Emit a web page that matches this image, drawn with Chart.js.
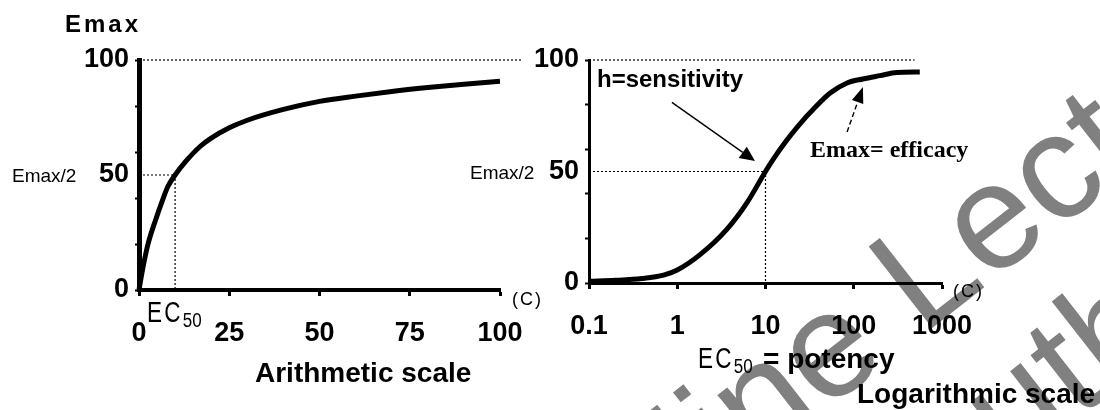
<!DOCTYPE html>
<html>
<head>
<meta charset="utf-8">
<script src="https://cdn.jsdelivr.net/npm/chart.js@4.4.1/dist/chart.umd.min.js"></script>
<style>
  html, body { margin: 0; padding: 0; background: #fff; }
  #stage { position: relative; width: 1100px; height: 410px; overflow: hidden; }
  #mark { position: absolute; left: 0; top: 0; }
  #leftWrap { position: absolute; left: 0; top: 0; width: 560px; height: 410px; }
  #rightWrap { position: absolute; left: 450px; top: 0; width: 650px; height: 410px; }
</style>
</head>
<body>
<div id="stage">
  <svg id="mark" width="1100" height="410">
    <g font-family="Liberation Sans, Arial, sans-serif" font-size="150" fill="#808080">
      <text x="548" y="628" transform="rotate(-38 548 628)">Online Lecture</text>
      <text x="933" y="532" transform="rotate(-38 933 532)">Author</text>
    </g>
  </svg>
  <div id="leftWrap"><canvas id="arithChart" width="560" height="410"></canvas></div>
  <div id="rightWrap"><canvas id="logChart" width="650" height="410"></canvas></div>
</div>
<script>
// concentration / effect readings, arithmetic plot
const arithConc   = [0, 1, 2.5, 4.5, 6.5, 8, 10, 13, 17, 20, 25, 30, 40, 50, 60, 70, 80, 90, 100];
const arithEffect = [0, 9, 20, 30, 39, 45, 50, 56, 62.5, 66, 70.5, 73.8, 78.5, 82, 84.3, 86.3, 88, 89.5, 90.8];
const arithXTicks = [0, 25, 50, 75, 100];

// concentration / effect readings, log plot
const logConc   = [0.1, 0.2, 0.4, 0.7, 1, 1.8, 3.6, 6.1, 10, 12, 17.4, 29, 34, 54, 84, 127, 198, 307, 560];
const logEffect = [0.8, 1.2, 2, 3.5, 5.8, 12.6, 23.8, 35.7, 50, 55, 64, 74.6, 77.5, 85.2, 89.7, 91.5, 93, 94.4, 94.6];
const logXTicks = [0.1, 1, 10, 100, 1000];

// effect axis (shared)
const effectTicks  = [0, 20, 40, 50, 60, 80, 100];
const effectLabels = [0, 50, 100];

const EMAX = 100;
const HALF_EFFECT = 50;
const EC50 = 10;
const arithGuideEnd = 106;
const logGuideEnd = 490;

const SANS = '"Liberation Sans", Arial, sans-serif';
const SERIF = '"Liberation Serif", "Times New Roman", serif';

const tickFont = { family: SANS, size: 27, weight: 'bold' };

function points(xs, ys) {
  return xs.map((x, i) => ({ x, y: ys[i] }));
}

function drawText(ctx, text, x, y, font, opts = {}) {
  const sx = opts.scaleX || 1;
  ctx.save();
  ctx.font = font;
  ctx.fillStyle = '#000';
  ctx.textAlign = opts.align || 'left';
  ctx.textBaseline = opts.baseline || 'alphabetic';
  if (opts.spacing) ctx.letterSpacing = opts.spacing + 'px';
  ctx.translate(x, y);
  ctx.scale(sx, 1);
  ctx.fillText(text, 0, 0);
  const w = ctx.measureText(text).width * sx;
  ctx.restore();
  return w;
}

function drawArrow(ctx, x1, y1, x2, y2, opts = {}) {
  const ang = Math.atan2(y2 - y1, x2 - x1);
  const hl = opts.head || 14;
  const hw = opts.headWidth || 6;
  const bx = x2 - hl * Math.cos(ang);
  const by = y2 - hl * Math.sin(ang);
  ctx.save();
  ctx.strokeStyle = '#000';
  ctx.fillStyle = '#000';
  ctx.lineWidth = opts.width || 1.5;
  ctx.setLineDash(opts.dash || []);
  ctx.beginPath();
  ctx.moveTo(x1, y1);
  ctx.lineTo(bx, by);
  ctx.stroke();
  ctx.setLineDash([]);
  ctx.beginPath();
  ctx.moveTo(x2, y2);
  ctx.lineTo(bx + hw * Math.sin(ang), by - hw * Math.cos(ang));
  ctx.lineTo(bx - hw * Math.sin(ang), by + hw * Math.cos(ang));
  ctx.closePath();
  ctx.fill();
  ctx.restore();
}

function effectAxis(borderWidth, axisWidth) {
  return {
    type: 'linear',
    min: 0,
    max: EMAX,
    afterBuildTicks: s => { s.ticks = effectTicks.map(v => ({ value: v })); },
    afterFit: s => { s.width = axisWidth; },
    border: { display: true, color: '#000', width: borderWidth },
    grid: {
      drawOnChartArea: false,
      drawTicks: true,
      tickLength: 4,
      tickWidth: 2,
      tickColor: ctx => (ctx.tick && ctx.tick.value === HALF_EFFECT) ? 'rgba(0,0,0,0)' : '#000'
    },
    ticks: {
      color: '#000',
      font: tickFont,
      padding: 6,
      autoSkip: false,
      callback: v => effectLabels.includes(v) ? String(v) : ''
    }
  };
}

function concAxis(type, min, max, tickValues, height, borderWidth) {
  return {
    type,
    min,
    max,
    afterBuildTicks: s => { s.ticks = tickValues.map(v => ({ value: v })); },
    afterFit: s => { s.height = height; },
    border: { display: true, color: '#000', width: borderWidth },
    grid: { drawOnChartArea: false, drawTicks: true, tickLength: 6, tickWidth: 3, tickColor: '#000' },
    ticks: { color: '#000', font: tickFont, padding: 21, autoSkip: false, maxRotation: 0, callback: v => String(v) }
  };
}

function guide(data) {
  return {
    data,
    borderColor: '#000',
    borderWidth: 1.2,
    borderDash: [2, 2],
    pointRadius: 0,
    tension: 0,
    clip: false
  };
}

function curve(data) {
  return {
    data,
    borderColor: '#000',
    borderWidth: 5,
    pointRadius: 0,
    cubicInterpolationMode: 'monotone',
    clip: false
  };
}

const baseOptions = {
  responsive: false,
  animation: false,
  devicePixelRatio: 1,
  plugins: { legend: { display: false }, tooltip: { enabled: false } }
};

// text and labels around the arithmetic plot
const arithNotes = {
  id: 'arithNotes',
  afterDraw(chart) {
    const { ctx, scales: { x, y } } = chart;
    drawText(ctx, 'Emax', 65, 32, `bold 24px ${SANS}`, { spacing: 3 });
    drawText(ctx, 'Emax/2', 12, y.getPixelForValue(HALF_EFFECT) + 2, `19px ${SANS}`, { baseline: 'middle' });
    const ecX = x.getPixelForValue(0) + 8;
    const w = drawText(ctx, 'EC', ecX, 322, `30px ${SANS}`, { spacing: 3, scaleX: 0.75 });
    drawText(ctx, '50', ecX + w, 327, `20px ${SANS}`, { scaleX: 0.85 });
    drawText(ctx, '(C)', x.right + 12, 300, `18px ${SANS}`, { baseline: 'middle', spacing: 2 });
    drawText(ctx, 'Arithmetic scale', 255, 382, `bold 28px ${SANS}`);
  }
};

// text and arrows around the log plot
const logNotes = {
  id: 'logNotes',
  afterDraw(chart) {
    const { ctx, scales: { x, y } } = chart;
    drawText(ctx, 'Emax/2', 20, y.getPixelForValue(HALF_EFFECT) + 2, `19px ${SANS}`, { baseline: 'middle' });
    drawText(ctx, 'h=sensitivity', x.left + 8, 87, `bold 24px ${SANS}`);
    drawArrow(ctx, x.getPixelForValue(0.87), y.getPixelForValue(81), x.getPixelForValue(7.6), y.getPixelForValue(54.7),
      { head: 15, headWidth: 7, width: 1.4 });
    drawText(ctx, 'Emax= efficacy', 360, 157, `bold 24px ${SERIF}`);
    drawArrow(ctx, x.getPixelForValue(84), y.getPixelForValue(67.7), x.getPixelForValue(127), y.getPixelForValue(87.9),
      { head: 16, headWidth: 6, width: 1.4, dash: [5, 3] });
    drawText(ctx, '(C)', x.right + 11, 292, `18px ${SANS}`, { baseline: 'middle', spacing: 2 });
    const w = drawText(ctx, 'EC', 248, 368, `30px ${SANS}`, { spacing: 3, scaleX: 0.75 });
    drawText(ctx, '50', 248 + w, 373, `20px ${SANS}`, { scaleX: 0.85 });
    drawText(ctx, '= potency', 313, 368, `bold 28px ${SANS}`);
    drawText(ctx, 'Logarithmic scale', 407, 403, `bold 28px ${SANS}`);
  }
};

new Chart(document.getElementById('arithChart'), {
  type: 'line',
  data: {
    datasets: [
      guide([{ x: 0, y: EMAX }, { x: arithGuideEnd, y: EMAX }]),
      guide([{ x: 0, y: HALF_EFFECT }, { x: EC50, y: HALF_EFFECT }, { x: EC50, y: 0 }]),
      curve(points(arithConc, arithEffect))
    ]
  },
  options: {
    ...baseOptions,
    layout: { padding: { left: 0, top: 60, right: 60, bottom: 0 } },
    scales: {
      x: concAxis('linear', 0, 100, arithXTicks, 120, 4),
      y: effectAxis(5, 139)
    }
  },
  plugins: [arithNotes]
});

new Chart(document.getElementById('logChart'), {
  type: 'line',
  data: {
    datasets: [
      guide([{ x: 0.1, y: EMAX }, { x: logGuideEnd, y: EMAX }]),
      guide([{ x: 0.1, y: HALF_EFFECT }, { x: EC50, y: HALF_EFFECT }, { x: EC50, y: 0 }]),
      curve(points(logConc, logEffect))
    ]
  },
  options: {
    ...baseOptions,
    layout: { padding: { left: 0, top: 60, right: 158, bottom: 0 } },
    scales: {
      x: concAxis('logarithmic', 0.1, 1000, logXTicks, 127, 3),
      y: effectAxis(3, 139)
    }
  },
  plugins: [logNotes]
});
</script>
</body>
</html>
